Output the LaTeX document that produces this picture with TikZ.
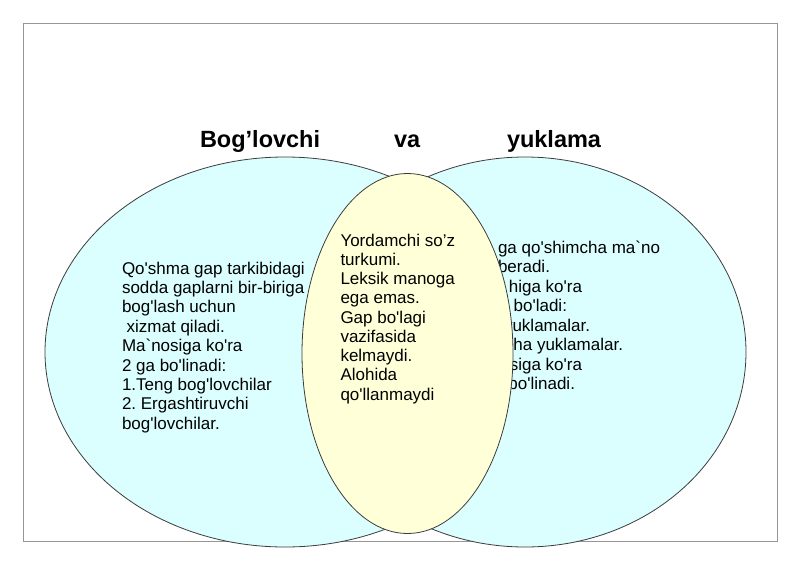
\documentclass[tikz,border=0pt]{standalone}
\usepackage{fontspec}
\setmainfont{Liberation Sans}
\usetikzlibrary{shapes.geometric}
\definecolor{cyanfill}{RGB}{219,254,255}
\definecolor{yellowfill}{RGB}{255,255,216}
\definecolor{outline}{RGB}{60,60,60}
\definecolor{framegray}{RGB}{150,150,150}
\newcommand\sqa{\XeTeXglyph\XeTeXcharglyph"27\relax}
\newcommand\grv{\XeTeXglyph\XeTeXcharglyph"60\relax}
\frenchspacing
\begin{document}
\begin{tikzpicture}[x=1pt,y=-1pt,
  venn/.style={ellipse, draw=outline, line width=0.8pt, inner sep=0pt, outer sep=0pt},
  body/.style={inner sep=0pt, outer sep=0pt, font=\fontsize{17}{19.5}\selectfont\frenchspacing, text=black},
  heading/.style={inner sep=0pt, outer sep=0pt, font=\fontsize{23.5}{28}\selectfont\bfseries, anchor=base west, text=black}]
\useasboundingbox (0,0) rectangle (800,565);
\fill[white] (0,0) rectangle (800,565);
\node[draw=framegray, line width=0.9pt, minimum width=754pt, minimum height=518pt, inner sep=0pt, anchor=north west] (frame) at (23,23) {};
% outer circles
\node[venn, fill=cyanfill, minimum width=480pt, minimum height=390pt] (left) at (285,352) {};
\node[venn, fill=cyanfill, minimum width=442pt, minimum height=390pt] (right) at (525,352) {};
% right text (partly under the middle ellipse)
\foreach \ex/\by/\t [count=\i] in {660/253/{ga qo\sqa shimcha ma\grv no}, 550/272.5/{beradi.}, 582/292/{higa ko\sqa ra}, 567/311.5/{bo\sqa ladi:}, 590/331/{yuklamalar.}, 623/350.5/{ha yuklamalar.}, 582/370/{siga ko\sqa ra}, 575/389.5/{bo\sqa linadi.}}
  \node[body, anchor=base east] (R\i) at (\ex,\by) {\t};
% left text
\foreach \t [count=\i] in {{Qo\sqa shma gap tarkibidagi}, {sodda gaplarni bir-biriga}, {bog\sqa lash uchun}, {\ xizmat qiladi.}, {Ma\grv nosiga ko\sqa ra}, {2 ga bo\sqa linadi:}, {1.Teng bog\sqa lovchilar}, {2. Ergashtiruvchi}, {bog\sqa lovchilar.}}
  \node[body, anchor=base west] (L\i) at ({122},{274+19.4*(\i-1)}) {\t};
% middle ellipse
\node[venn, fill=yellowfill, minimum width=211pt, minimum height=360pt] (mid) at (407.5,353.5) {};
\foreach \t [count=\i] in {{Yordamchi so’z}, {turkumi.}, {Leksik manoga}, {ega emas.}, {Gap bo\sqa lagi}, {vazifasida}, {kelmaydi.}, {Alohida}, {qo\sqa llanmaydi}}
  \node[body, anchor=base west] (M\i) at ({340.5},{246+19.25*(\i-1)}) {\t};
% titles
\node[heading] (t1) at (200,147.3) {Bog’lovchi};
\node[heading] (t2) at (394,147.3) {va};
\node[heading] (t3) at (507,147.3) {yuklama};
\end{tikzpicture}
\end{document}
